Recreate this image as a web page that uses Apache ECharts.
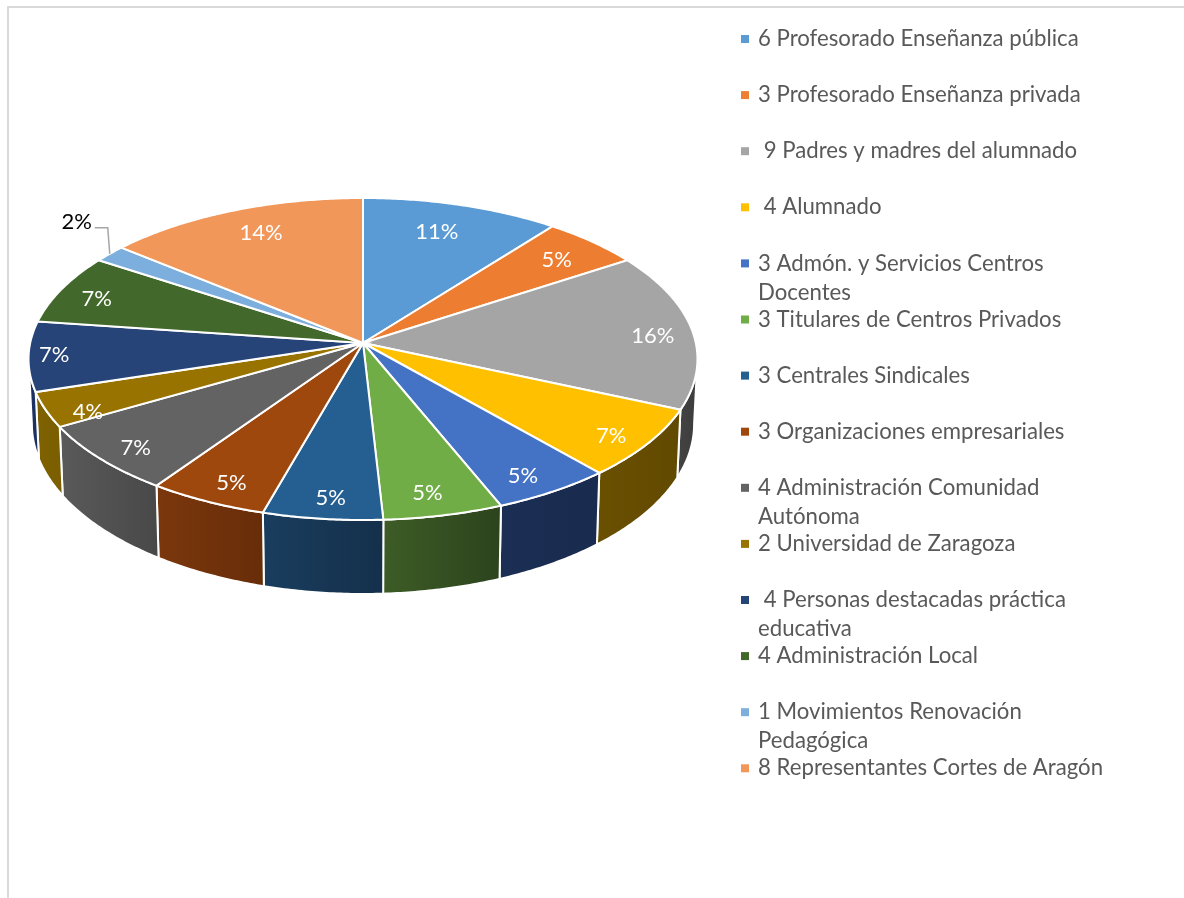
<!DOCTYPE html>
<html>
<head>
<meta charset="utf-8">
<title>Consejo Escolar</title>
<script src="https://cdn.jsdelivr.net/npm/echarts@6/dist/echarts.min.js"></script>
<style>
    html, body { margin: 0; padding: 0; background: #fff; }
    #chart { width: 1184px; height: 898px; }
</style>
</head>
<body>
<div id="chart"></div>
<script>
var categories = [
    '6 Profesorado Enseñanza pública',
    '3 Profesorado Enseñanza privada',
    ' 9 Padres y madres del alumnado',
    ' 4 Alumnado',
    '3 Admón. y Servicios Centros\nDocentes',
    '3 Titulares de Centros Privados',
    '3 Centrales Sindicales',
    '3 Organizaciones empresariales',
    '4 Administración Comunidad\nAutónoma',
    '2 Universidad de Zaragoza',
    ' 4 Personas destacadas práctica\neducativa',
    '4 Administración Local',
    '1 Movimientos Renovación\nPedagógica',
    '8 Representantes Cortes de Aragón'
];
var values = [6, 3, 9, 4, 3, 3, 3, 3, 4, 2, 4, 4, 1, 8];

var top_colors = ['#5b9bd5', '#ed7d31', '#a5a5a5', '#ffc000', '#4472c4', '#70ad47', '#255e91',
    '#9e480e', '#636363', '#997300', '#264478', '#43682b', '#7cafdd', '#f1975a'];
// left and right shade of each slice's outer wall
var wall_colors = [
    ['#37618a', '#37618a'], ['#8a4a1f', '#8a4a1f'], ['#444444', '#3c3c3c'], ['#6a5000', '#614900'],
    ['#1b2e54', '#192b4e'], ['#3d5c26', '#2c431d'], ['#1a3d5e', '#14304b'], ['#7b370d', '#672d09'],
    ['#5a5a5a', '#484848'], ['#7f6100', '#7a5e00'], ['#1c3160', '#1c3160'], ['#2b431c', '#2b431c'],
    ['#4d7aa0', '#4d7aa0'], ['#96603a', '#96603a']
];
// where each percentage sits: fraction of the radius, and degrees off the slice's middle
var label_radius = [0.785, 0.824, 0.876, 0.895, 0.888, 0.878, 0.89, 0.885, 0.89, 0.894, 0.924, 0.87, 0, 0.81];
var label_turn = [-1.25, 0.8, 1.7, 1.7, 1.6, 1, -0.6, -1, -1.3, -3.9, 0, -1.5, 0, 1.3];

var total = values.reduce(function (a, b) { return a + b; }, 0);
var slices = [];
var running = 0;
for (var n = 0; n < values.length; n++) {
    slices.push([running, running + values[n], n]);
    running += values[n];
}

// tilted disc, drawn with a slight perspective so the far half is smaller
var apex_x = 363, apex_y = 343;
var radius_x = 332.8, radius_y = 159.4, persp = 0.0994;
var outside_slice = 12;

function to_angle(val) {
    return val / total * Math.PI * 2;
}

function project(angle, r) {
    var u = r * Math.sin(angle);
    var v = r * Math.cos(angle);
    var w = 1 + persp * v;
    return [apex_x + radius_x * u / w, apex_y - radius_y * v / w];
}

function project_bottom(angle) {
    var p = project(angle, 1);
    return [apex_x + (p[0] - apex_x) * 0.99, p[1] + 64 - 10 * Math.cos(angle)];
}

function arc_points(start, end, fn) {
    var pts = [];
    var steps = Math.max(2, Math.ceil((end - start) / 0.01));
    for (var i = 0; i <= steps; i++) {
        pts.push(fn(start + (end - start) * i / steps));
    }
    return pts;
}

function label_text(text, x, y, color) {
    return {
        type: 'text',
        z2: 5,
        style: {
            text: text, x: x, y: y, fill: color,
            fontFamily: 'Lato', fontSize: 22,
            align: 'center', verticalAlign: 'middle'
        }
    };
}

function render_wall(params, api) {
    var idx = api.value(2);
    var vis_start = Math.acos(-persp);
    var start = Math.max(to_angle(api.value(0)), vis_start);
    var end = Math.min(to_angle(api.value(1)), Math.PI * 2 - vis_start);
    if (end <= start) return null;

    var upper = arc_points(start, end, function (a) { return project(a, 1); });
    var lower = arc_points(start, end, project_bottom);
    return {
        type: 'polygon',
        shape: { points: upper.concat(lower.reverse()) },
        style: {
            fill: new echarts.graphic.LinearGradient(0, 0, 1, 0, [
                { offset: 0, color: wall_colors[idx][0] },
                { offset: 1, color: wall_colors[idx][1] }
            ]),
            stroke: '#fff',
            lineWidth: 2
        }
    };
}

function render_slice(params, api) {
    var idx = api.value(2);
    var start = to_angle(api.value(0));
    var end = to_angle(api.value(1));
    var mid = (start + end) / 2;
    var rim = arc_points(start, end, function (a) { return project(a, 1); });
    var percent = Math.round(values[idx] / total * 100) + '%';

    var children = [{
        type: 'polygon',
        shape: { points: [[apex_x, apex_y]].concat(rim) },
        style: { fill: top_colors[idx], stroke: '#fff', lineWidth: 2 }
    }];

    if (idx === outside_slice) {
        var edge = project(mid, 1);
        children.push({
            type: 'polyline',
            shape: { points: [edge, [edge[0] - 2, edge[1] - 26], [edge[0] - 15, edge[1] - 26]] },
            style: { fill: null, stroke: '#a6a6a6', lineWidth: 1.5 }
        });
        children.push(label_text(percent, edge[0] - 33, edge[1] - 32, '#000'));
    } else {
        var at = project(mid + label_turn[idx] * Math.PI / 180, label_radius[idx]);
        children.push(label_text(percent, at[0], at[1], '#fff'));
    }
    return { type: 'group', children: children };
}

var series = [{
    name: 'walls',
    type: 'custom',
    coordinateSystem: 'none',
    z: 1,
    silent: true,
    renderItem: render_wall,
    data: slices
}];
for (var i = 0; i < categories.length; i++) {
    series.push({
        name: categories[i],
        type: 'custom',
        coordinateSystem: 'none',
        z: 2,
        itemStyle: { color: top_colors[i] },
        renderItem: render_slice,
        data: [slices[i]]
    });
}

var chart = echarts.init(document.getElementById('chart'), null, { renderer: 'canvas' });
chart.setOption({
    animation: false,
    backgroundColor: '#fff',
    tooltip: { show: false },
    legend: {
        data: categories,
        orient: 'vertical',
        left: 741,
        top: -5.5,
        padding: 0,
        itemWidth: 8,
        itemHeight: 8,
        itemGap: -32.9,
        icon: 'rect',
        selectedMode: false,
        // three lines per item, so the marker stays level with the first line of text
        formatter: function (name) {
            return '\n' + name + (name.indexOf('\n') < 0 ? '\n' : '');
        },
        textStyle: {
            color: '#595959',
            fontFamily: 'Lato',
            fontSize: 22.2,
            lineHeight: 29,
            padding: [2, 0, 0, 4]
        }
    },
    graphic: [{
        type: 'polyline',
        silent: true,
        shape: { points: [[8, 898], [8, 7], [1184, 7]] },
        style: { fill: null, stroke: '#d9d9d9', lineWidth: 2 }
    }],
    series: series
});
</script>
</body>
</html>
